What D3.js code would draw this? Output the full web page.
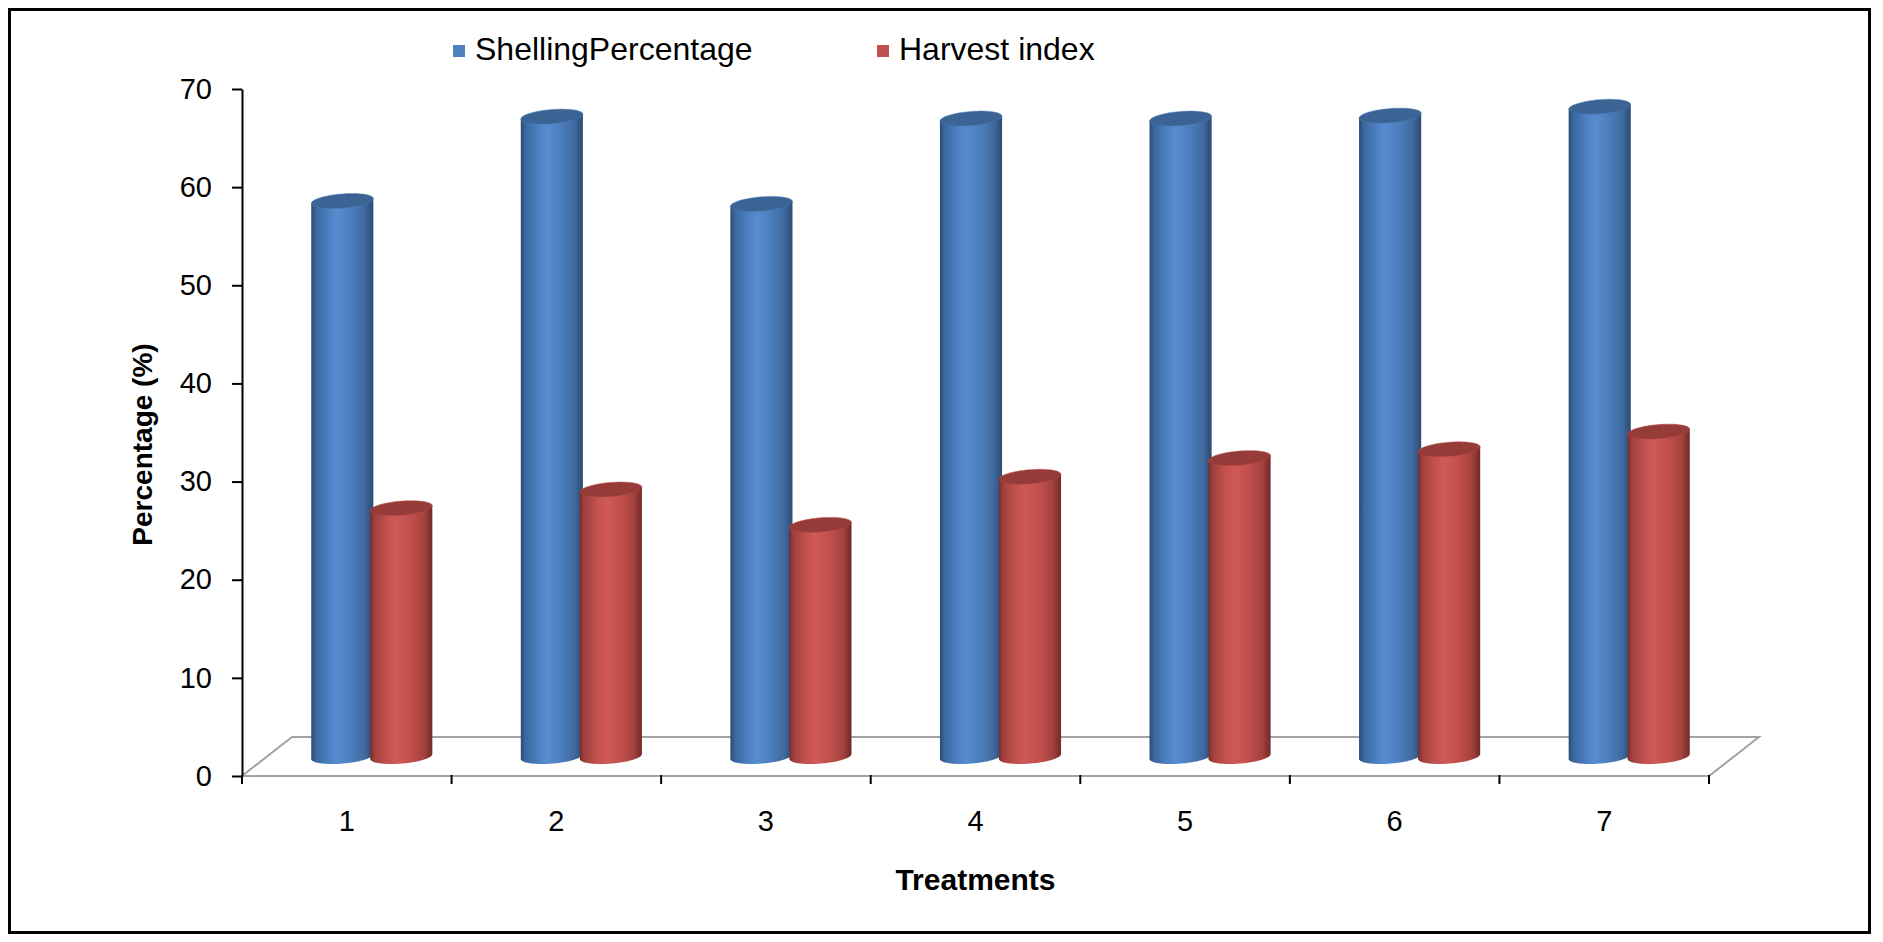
<!DOCTYPE html>
<html>
<head>
<meta charset="utf-8">
<script src="https://cdn.jsdelivr.net/npm/d3@7"></script>
<style>
  html, body { margin: 0; padding: 0; background: #ffffff; }
  svg { display: block; font-family: "Liberation Sans", Arial, sans-serif; }
</style>
</head>
<body>
<svg id="chart" width="1883" height="942"></svg>
<script>
// Treatment categories and the two measured series (percent)
const categories = ["1", "2", "3", "4", "5", "6", "7"];
const seriesNames = ["ShellingPercentage", "Harvest index"];
const shellingPercentage = [56.6, 65.2, 56.3, 65.0, 65.0, 65.3, 66.2];
const harvestIndex = [25.3, 27.2, 23.6, 28.5, 30.4, 31.3, 33.1];
const yTickValues = [0, 10, 20, 30, 40, 50, 60, 70];
const xTitle = "Treatments";
const yTitle = "Percentage (%)";

const svg = d3.select("#chart");

// Plot frame (front plane of the 3-D floor)
const left = 242, right = 1709, yBottom = 776, yTop = 89;
// Oblique depth offset of the floor (front edge -> back edge)
const depthX = 50, depthY = -39;
// Columns stand at half depth
const midX = depthX / 2, midY = depthY / 2;

const x = d3.scaleBand().domain(categories).range([left, right]).paddingInner(0).paddingOuter(0);
const y = d3.scaleLinear().domain([0, 70]).range([yBottom, yTop]);

const series = [
  { name: seriesNames[0], values: shellingPercentage,
    stops: ["#2b4a72", "#3a679e", "#4c80c2", "#568cd0", "#4b7dbb", "#3f6aa0", "#2c4b72"],
    cap: "#3b6494", key: "#4f81bd" },
  { name: seriesNames[1], values: harvestIndex,
    stops: ["#772c2a", "#a0403d", "#c4524f", "#cf5956", "#c14f4c", "#a5423f", "#732a28"],
    cap: "#953c39", key: "#c0504d" }
];

// Outer border
svg.append("rect")
  .attr("x", 9.5).attr("y", 9.5)
  .attr("width", 1860).attr("height", 923)
  .attr("fill", "#ffffff").attr("stroke", "#000000").attr("stroke-width", 3);

// Gradients that give the cylinders their rounded shading
const defs = svg.append("defs");
const offs = [0, 0.07, 0.28, 0.42, 0.66, 0.86, 1];
series.forEach((s, i) => {
  const g = defs.append("linearGradient").attr("id", "cyl" + i)
    .attr("x1", 0).attr("x2", 1).attr("y1", 0).attr("y2", 0);
  s.stops.forEach((c, k) => g.append("stop").attr("offset", offs[k]).attr("stop-color", c));
});

// Floor parallelogram
const floorPts = [
  [left, yBottom], [right, yBottom],
  [right + depthX, yBottom + depthY], [left + depthX, yBottom + depthY]
];
svg.append("path")
  .attr("d", d3.line()(floorPts) + "Z")
  .attr("fill", "none").attr("stroke", "#a3a3a3").attr("stroke-width", 2);

// Cylinder geometry (slanted ellipse: x = a cos t + b sin t, y = -c sin t)
const ea = 29.4, eb = 10, ec = 7.5;
const R = Math.sqrt(ea * ea + eb * eb);
const phi = Math.atan2(eb, ea);
const half = 29.5;       // distance from group centre to each column's axis

function ellipsePts(cx, cy, t0, t1, n) {
  const pts = [];
  for (let k = 0; k <= n; k++) {
    const t = t0 + (t1 - t0) * k / n;
    pts.push([cx + ea * Math.cos(t) + eb * Math.sin(t), cy - ec * Math.sin(t)]);
  }
  return pts;
}

const bars = svg.append("g").attr("class", "bars");
categories.forEach((cat, ci) => {
  const groupX = x(cat) + x.bandwidth() / 2 + midX;
  series.forEach((s, si) => {
    const cx = groupX + (si === 0 ? -half : half);
    const base = y(0) + midY;
    const top = y(s.values[ci]) + midY;
    // body: left side, front arc of the base, right side
    const body = [[cx - R, top + ec * eb / R]]
      .concat(ellipsePts(cx, base, phi + Math.PI, phi + 2 * Math.PI, 60))
      .concat([[cx + R, top - ec * eb / R]]);
    bars.append("path")
      .attr("d", d3.line()(body) + "Z")
      .attr("fill", `url(#cyl${si})`);
    // top cap
    bars.append("path")
      .attr("d", d3.line()(ellipsePts(cx, top, 0, 2 * Math.PI, 80)) + "Z")
      .attr("fill", s.cap)
      .attr("stroke", d3.color(s.cap).brighter(0.6)).attr("stroke-width", 0.8).attr("stroke-opacity", 0.6);
  });
});

// Value axis
const yAxis = svg.append("g")
  .attr("transform", `translate(${left},0)`)
  .call(d3.axisLeft(y).tickValues(yTickValues).tickSize(10).tickSizeOuter(0).tickPadding(20));
yAxis.select(".domain").attr("stroke", "#000").attr("stroke-width", 2);
yAxis.selectAll(".tick line").attr("stroke", "#000").attr("stroke-width", 2);
yAxis.selectAll(".tick text").attr("font-size", 29).attr("fill", "#000")
  .attr("font-family", "'Liberation Sans', Arial, sans-serif");

// Category axis: boundary tick marks and centred labels on the front edge
const boundaries = categories.map(c => x(c)).concat([x.range()[1]]);
svg.append("g").selectAll("line").data(boundaries).join("line")
  .attr("x1", d => d).attr("x2", d => d)
  .attr("y1", yBottom - 1).attr("y2", yBottom + 8)
  .attr("stroke", "#000").attr("stroke-width", 2);

const xAxis = svg.append("g")
  .attr("transform", `translate(0,${yBottom})`)
  .call(d3.axisBottom(x).tickSize(0).tickPadding(34));
xAxis.select(".domain").remove();
xAxis.selectAll(".tick text").attr("font-size", 29).attr("fill", "#000")
  .attr("font-family", "'Liberation Sans', Arial, sans-serif");

// Axis titles
svg.append("text")
  .attr("x", (left + right) / 2).attr("y", 890)
  .attr("text-anchor", "middle").attr("font-weight", "bold").attr("font-size", 30)
  .text(xTitle);
svg.append("text")
  .attr("transform", `translate(152,${(yTop + yBottom) / 2 + 12}) rotate(-90)`)
  .attr("text-anchor", "middle").attr("font-weight", "bold").attr("font-size", 28)
  .text(yTitle);

// Legend
const legendX = [453, 877];
const legend = svg.append("g");
series.forEach((s, i) => {
  legend.append("rect")
    .attr("x", legendX[i]).attr("y", 45).attr("width", 12).attr("height", 12)
    .attr("fill", s.key);
  legend.append("text")
    .attr("x", legendX[i] + 22).attr("y", 60)
    .attr("font-size", 32).attr("fill", "#000")
    .text(s.name);
});
</script>
</body>
</html>
